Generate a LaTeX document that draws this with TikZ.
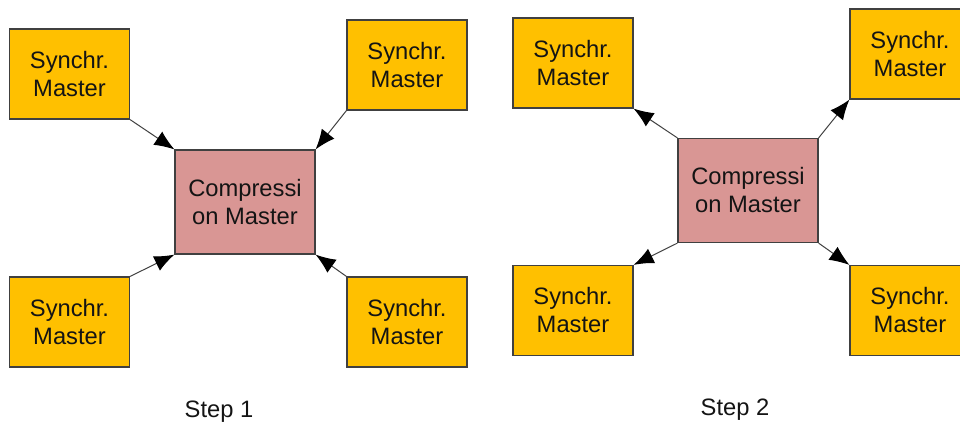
\documentclass[tikz,border=0pt]{standalone}
\usepackage{fontspec}
\setmainfont{Liberation Sans}
\usetikzlibrary{arrows.meta}
\definecolor{syncfill}{RGB}{255,192,0}
\definecolor{compfill}{RGB}{217,150,148}
\definecolor{boxline}{RGB}{64,64,64}
\definecolor{txt}{RGB}{20,20,20}
\begin{document}
\begin{tikzpicture}[x=0.75pt,y=0.75pt,yscale=-1,xscale=1,
  font=\fontsize{17.8}{21}\selectfont, text=txt,
  syncbox/.style={draw=boxline, fill=syncfill, line width=0.9pt, minimum width=90pt, minimum height=67.5pt, inner sep=0pt, align=center},
  compbox/.style={draw=boxline, fill=compfill, line width=0.9pt, minimum width=105pt, minimum height=78pt, inner sep=0pt, align=center},
  conn/.style={draw=boxline, line width=0.75pt, -{Latex[length=15pt,width=12pt,black]}}]
\useasboundingbox (0,0) rectangle (960,430);

%Step 1 boxes
\node [compbox] (cmA) at (245,202) {Compressi\\on Master};
\node [syncbox] (smA1) at (69.5,74) {Synchr.\\Master};
\node [syncbox] (smA2) at (407,65) {Synchr.\\Master};
\node [syncbox] (smA3) at (69.5,322) {Synchr.\\Master};
\node [syncbox] (smA4) at (407,322) {Synchr.\\Master};
%Step 1 arrows
\draw [conn] (smA1.south east) -- (cmA.north west);
\draw [conn] (smA2.south west) -- (cmA.north east);
\draw [conn] (smA3.north east) -- (cmA.south west);
\draw [conn] (smA4.north west) -- (cmA.south east);

%Step 2 boxes
\node [compbox] (cmB) at (748,190.5) {Compressi\\on Master};
\node [syncbox] (smB1) at (573,63) {Synchr.\\Master};
\node [syncbox] (smB2) at (910,54) {Synchr.\\Master};
\node [syncbox] (smB3) at (573,310.5) {Synchr.\\Master};
\node [syncbox] (smB4) at (910,310.5) {Synchr.\\Master};
%Step 2 arrows
\draw [conn] (cmB.north west) -- (smB1.south east);
\draw [conn] (cmB.north east) -- (smB2.south west);
\draw [conn] (cmB.south west) -- (smB3.north east);
\draw [conn] (cmB.south east) -- (smB4.north west);

% Text Node
\node (stepA) at (219,412) {Step 1};
% Text Node
\node (stepB) at (735,410) {Step 2};

\end{tikzpicture}
\end{document}
